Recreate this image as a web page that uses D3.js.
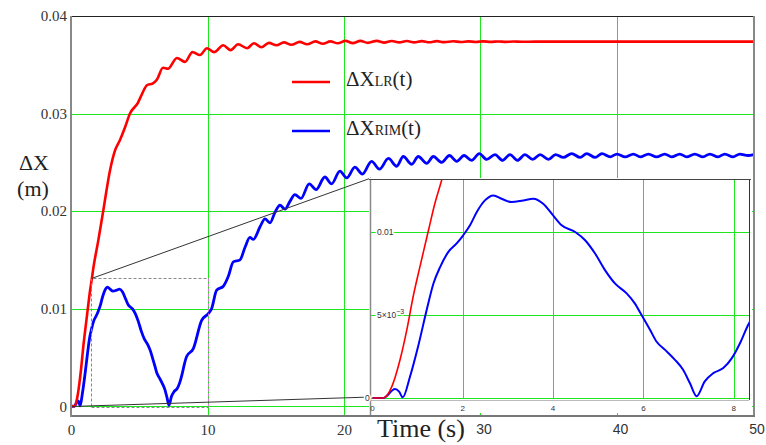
<!DOCTYPE html>
<html>
<head>
<meta charset="utf-8">
<script src="https://cdn.jsdelivr.net/npm/d3@7"></script>
<style>
  html, body { margin: 0; padding: 0; background: #fff; }
  svg { display: block; }
</style>
</head>
<body>
<div id="chart"></div>
<script>
// ΔX_LR(t): time (s) / displacement (m)
const lrTime = [0, 0.24, 0.43, 0.61, 0.76, 0.9, 1.05, 1.24, 1.38, 1.53,
  1.63, 2.0, 2.37, 2.86, 3.22, 3.59, 3.96, 4.32, 4.9, 5.2,
  5.56, 6.0, 6.3, 6.74, 7.1, 7.76, 8.35, 8.9, 9.45, 9.96,
  10.5, 11.15, 11.7, 12.25, 12.9, 13.4, 13.95, 14.5, 15.05, 15.6,
  16.15, 16.75, 17.3, 17.9, 18.45, 19.0, 19.55, 20.1, 20.65, 21.2,
  21.75, 22.4, 22.95, 23.5, 24.05, 24.6, 25.15, 25.7, 26.25, 26.8,
  27.35, 28.0, 28.55, 29.1, 29.65, 30.2, 30.75, 31.3, 31.85, 32.4,
  33.0, 34.0, 50];
const lrValue = [0, 0, 0.0007, 0.0023, 0.0041, 0.0061, 0.0079, 0.0101, 0.0117, 0.0131,
  0.0141, 0.0170, 0.0201, 0.0242, 0.0262, 0.0273, 0.0286, 0.0300, 0.0311, 0.0320,
  0.0329, 0.0331, 0.0335, 0.0347, 0.0346, 0.0357, 0.0353, 0.0363, 0.0360, 0.0367,
  0.0363, 0.0370, 0.0365, 0.0371, 0.0367, 0.0372, 0.0368, 0.03725, 0.0370, 0.0373,
  0.03705, 0.03735, 0.0371, 0.0374, 0.03715, 0.0374, 0.0372, 0.03745, 0.03722, 0.03745,
  0.03725, 0.03745, 0.03727, 0.03744, 0.0373, 0.03743, 0.0373, 0.03742, 0.03731, 0.03742,
  0.03732, 0.03741, 0.03733, 0.0374, 0.03734, 0.0374, 0.03735, 0.03739, 0.03735, 0.03738,
  0.03736, 0.03737, 0.03737];

// ΔX_RIM(t)
const rimTime = [0, 0.24, 0.5, 0.59, 0.67, 0.83, 1.01, 1.2, 1.35, 1.5,
  1.68, 1.86, 2.01, 2.16, 2.31, 2.49, 2.68, 2.86, 3.08, 3.34,
  3.56, 3.78, 4.0, 4.19, 4.49, 4.71, 4.93, 5.15, 5.37, 5.63,
  5.81, 5.96, 6.15, 6.29, 6.48, 6.7, 6.88, 7.03, 7.18, 7.36,
  7.55, 7.77, 7.96, 8.14, 8.32, 8.47, 8.96, 9.57, 10.06, 10.3,
  10.67, 11.16, 11.52, 11.89, 12.38, 12.75, 13.11, 13.36, 13.85, 14.21,
  14.58, 14.95, 15.31, 15.68, 16.04, 16.4, 16.85, 17.45, 17.95, 18.6,
  19.09, 19.7, 20.2, 20.8, 21.35, 22.02, 22.6, 23.25, 23.86, 24.34,
  24.96, 25.44, 26.06, 26.54, 27.16, 27.72, 28.26, 28.8, 29.35, 29.91,
  30.45, 31.06, 31.62, 32.16, 32.7, 33.26, 33.82, 34.37, 34.98, 35.5,
  36.07, 36.68, 37.3, 37.78, 38.4, 38.9, 39.5, 40.0, 40.6, 41.2,
  41.7, 42.3, 42.9, 43.5, 44.0, 44.6, 45.1, 45.7, 46.3, 46.8,
  47.4, 47.9, 48.5, 49.0, 49.6, 50];
const rimValue = [0, 0, 0.00054, 0.00038, 0.00004, 0.00128, 0.0031, 0.0053, 0.0069, 0.0079,
  0.0088, 0.0093, 0.0098, 0.0104, 0.0112, 0.0119, 0.0122, 0.0120, 0.0118, 0.0119,
  0.0120, 0.0117, 0.0110, 0.0104, 0.0100, 0.0095, 0.0087, 0.0077, 0.0069, 0.0063,
  0.0057, 0.0050, 0.0041, 0.0034, 0.0029, 0.0023, 0.0017, 0.0009, 0.0001, 0.0010,
  0.0015, 0.0018, 0.0024, 0.0033, 0.0044, 0.0051, 0.0059, 0.0088, 0.0095, 0.0100,
  0.0119, 0.0123, 0.0133, 0.0148, 0.0150, 0.0163, 0.0173, 0.0171, 0.0184, 0.0192,
  0.0188, 0.0199, 0.0206, 0.0202, 0.0210, 0.0217, 0.0213, 0.0228, 0.0222, 0.0235,
  0.0228, 0.0241, 0.0234, 0.0245, 0.0238, 0.0251, 0.0243, 0.0254, 0.0246, 0.0256,
  0.0248, 0.0256, 0.0249, 0.0256, 0.0250, 0.0257, 0.0251, 0.0257, 0.0252, 0.0259,
  0.0253, 0.0258, 0.0252, 0.0258, 0.0252, 0.0258, 0.0253, 0.0258, 0.0253, 0.0258,
  0.0255, 0.0259, 0.0255, 0.0259, 0.0255, 0.0259, 0.02557, 0.02585, 0.02557, 0.02585,
  0.02557, 0.02585, 0.02557, 0.02585, 0.02557, 0.02585, 0.02557, 0.02585, 0.02557, 0.02585,
  0.02557, 0.02585, 0.02557, 0.02585, 0.0257, 0.0258];

const xTicks = [0, 10, 20, 30, 40, 50];
const yTicks = [0, 0.01, 0.02, 0.03, 0.04];
const xGrid = [10, 20, 30, 40];
const yGrid = [0, 0.01, 0.02, 0.03];
const insetXTicks = [0, 2, 4, 6, 8];
const insetYTicks = [0, 0.005, 0.01];
// zoom window shown in the inset (t from, t to, ΔX top)
const zoomWindow = [1.5, 10, 0.0131];

const legendItems = [
  { sub: "LR", color: "#ff0000" },
  { sub: "RIM", color: "#0000ff" }
];

const serif = "'Liberation Serif', 'Times New Roman', serif";
const sans = "'Liberation Sans', Arial, sans-serif";
const green = "#1ee61e";

// snap thin 1px lines onto a pixel
const px = v => Math.round(v) + 0.5;

const svg = d3.select("#chart").append("svg")
  .attr("width", 766)
  .attr("height", 445);

// scales of the main plot
const x = d3.scaleLinear().domain([0, 50]).range([71, 753.5]);
const y = d3.scaleLinear().domain([-0.001, 0.04]).range([416, 16]);

// scales of the inset
const ix = d3.scaleLinear().domain([0, 8.34]).range([372.5, 749]);
const iy = d3.scaleLinear().domain([0, 0.01313]).range([398, 180]);

const lrData = d3.zip(lrTime, lrValue);
const rimData = d3.zip(rimTime, rimValue);

const defs = svg.append("defs");
defs.append("clipPath").attr("id", "clip-main")
  .append("rect").attr("x", 71).attr("y", 16).attr("width", 683).attr("height", 400);
defs.append("clipPath").attr("id", "clip-inset")
  .append("rect").attr("x", 371).attr("y", 180).attr("width", 378).attr("height", 221);

// grid
svg.append("g")
  .selectAll("line")
  .data(xGrid)
  .join("line")
  .attr("x1", d => px(x(d))).attr("x2", d => px(x(d)))
  .attr("y1", 16).attr("y2", 416)
  .attr("stroke", green).attr("stroke-width", 1);

svg.append("g")
  .selectAll("line")
  .data(yGrid)
  .join("line")
  .attr("x1", 71).attr("x2", 754)
  .attr("y1", d => px(y(d))).attr("y2", d => px(y(d)))
  .attr("stroke", green).attr("stroke-width", 1);

// curves
const mainLine = d3.line()
  .x(d => x(d[0]))
  .y(d => y(d[1]))
  .curve(d3.curveMonotoneX);

const curves = svg.append("g").attr("clip-path", "url(#clip-main)");
curves.append("path")
  .attr("d", mainLine(rimData))
  .attr("fill", "none").attr("stroke", "#0000ff").attr("stroke-width", 2.8);
curves.append("path")
  .attr("d", mainLine(lrData))
  .attr("fill", "none").attr("stroke", "#ff0000").attr("stroke-width", 2.6);

// zoom window + connectors
const zx0 = px(x(zoomWindow[0])), zx1 = px(x(zoomWindow[1]));
const zyTop = px(y(zoomWindow[2])), zyBot = px(y(0));

svg.append("path")
  .attr("d", `M${zx0},${zyBot}V${zyTop}H${zx1}M${zx0},${zyBot + 1}H${zx1}`)
  .attr("fill", "none").attr("stroke", "#888").attr("stroke-width", 1)
  .attr("stroke-dasharray", "3,2");
svg.append("line")
  .attr("x1", zx1).attr("x2", zx1).attr("y1", zyTop).attr("y2", zyBot)
  .attr("stroke", "#e070e0").attr("stroke-width", 1).attr("stroke-dasharray", "3,2");

svg.append("line")
  .attr("x1", zx0).attr("y1", zyTop).attr("x2", 371).attr("y2", 178)
  .attr("stroke", "#333").attr("stroke-width", 1);
svg.append("line")
  .attr("x1", x(0)).attr("y1", zyBot).attr("x2", 371).attr("y2", 397)
  .attr("stroke", "#333").attr("stroke-width", 1);

// ---- inset ----
const inset = svg.append("g");
inset.append("rect")
  .attr("x", 369).attr("y", 178).attr("width", 383).attr("height", 235)
  .attr("fill", "#fff");

inset.append("g")
  .selectAll("line")
  .data(insetXTicks.filter(d => d > 0))
  .join("line")
  .attr("x1", d => px(ix(d))).attr("x2", d => px(ix(d)))
  .attr("y1", 180).attr("y2", 399)
  .attr("stroke", green).attr("stroke-width", 1);

inset.append("g")
  .selectAll("line")
  .data(insetYTicks)
  .join("line")
  .attr("x1", 371).attr("x2", 749)
  .attr("y1", d => px(iy(d))).attr("y2", d => px(iy(d)))
  .attr("stroke", green).attr("stroke-width", 1);

const insetLine = d3.line()
  .x(d => ix(d[0]))
  .y(d => iy(d[1]))
  .curve(d3.curveMonotoneX);

const insetCurves = inset.append("g").attr("clip-path", "url(#clip-inset)");
insetCurves.append("path")
  .attr("d", insetLine(rimData.filter(d => d[0] <= 8.6)))
  .attr("fill", "none").attr("stroke", "#0000ff").attr("stroke-width", 2);
insetCurves.append("path")
  .attr("d", insetLine(lrData.filter(d => d[0] <= 2)))
  .attr("fill", "none").attr("stroke", "#ff0000").attr("stroke-width", 1.6);

// inset frame
inset.append("line").attr("x1", 369).attr("x2", 751).attr("y1", 179.5).attr("y2", 179.5)
  .attr("stroke", "#444").attr("stroke-width", 1);
inset.append("line").attr("x1", 749.5).attr("x2", 749.5).attr("y1", 180).attr("y2", 400)
  .attr("stroke", "#333").attr("stroke-width", 1);
inset.append("line").attr("x1", 371).attr("x2", 749).attr("y1", 400.5).attr("y2", 400.5)
  .attr("stroke", "#bbb").attr("stroke-width", 1);
inset.append("line").attr("x1", 370.5).attr("x2", 370.5).attr("y1", 180).attr("y2", 416)
  .attr("stroke", "#888").attr("stroke-width", 1.5);

// inset tick labels
inset.append("g")
  .selectAll("text")
  .data(insetXTicks)
  .join("text")
  .attr("x", d => ix(d))
  .attr("y", 411)
  .attr("text-anchor", "middle")
  .style("font-family", sans).style("font-size", "8px").style("fill", "#333")
  .text(d => d);

const iyLabels = inset.append("g")
  .selectAll("text")
  .data(insetYTicks)
  .join("text")
  .attr("x", d => d === 0 ? 365 : 377)
  .attr("y", d => iy(d) + 3)
  .style("font-family", sans).style("font-size", "8.5px").style("fill", "#333")
  .attr("stroke", "#fff").attr("stroke-width", 3).attr("paint-order", "stroke");

iyLabels.each(function (d) {
  const t = d3.select(this);
  if (d === 0.005) {
    t.append("tspan").text("5×10");
    t.append("tspan").attr("dy", -4).style("font-size", "7px").text("−3");
  } else {
    t.text(d);
  }
});

// ---- main frame ----
svg.append("line").attr("x1", 71).attr("x2", 754).attr("y1", 16.5).attr("y2", 16.5)
  .attr("stroke", "#222").attr("stroke-width", 1);
svg.append("line").attr("x1", 754).attr("x2", 754).attr("y1", 16).attr("y2", 417)
  .attr("stroke", "#888").attr("stroke-width", 2);
svg.append("line").attr("x1", 70).attr("x2", 755).attr("y1", 416).attr("y2", 416)
  .attr("stroke", "#777").attr("stroke-width", 2);
svg.append("line").attr("x1", 71).attr("x2", 71).attr("y1", 16).attr("y2", 417)
  .attr("stroke", "#888").attr("stroke-width", 2);

// axes labels
const yAxis = svg.append("g")
  .attr("transform", "translate(71,0)")
  .call(d3.axisLeft(y).tickValues(yTicks).tickSize(0).tickPadding(4)
    .tickFormat(d => d === 0 ? "0" : d3.format(".2f")(d)));
yAxis.select(".domain").remove();
yAxis.selectAll("text")
  .style("font-family", serif).style("font-size", "15px").style("fill", "#333");

const xAxis = svg.append("g")
  .attr("transform", "translate(0,416)")
  .call(d3.axisBottom(x).tickValues(xTicks).tickSize(0).tickPadding(8));
xAxis.select(".domain").remove();
xAxis.selectAll("text")
  .attr("dx", d => d >= 30 ? 3 : 0)
  .style("font-family", d => d >= 30 ? sans : serif)
  .style("font-size", d => d >= 30 ? "14px" : "15px")
  .style("fill", "#333");

svg.append("text")
  .attr("x", 377).attr("y", 437)
  .style("font-family", serif).style("font-size", "26px").style("fill", "#222")
  .text("Time (s)");

svg.append("text")
  .attr("x", 34).attr("y", 170)
  .attr("text-anchor", "middle")
  .style("font-family", serif).style("font-size", "22px").style("fill", "#222")
  .text("ΔX");
svg.append("text")
  .attr("x", 33).attr("y", 196)
  .attr("text-anchor", "middle")
  .style("font-family", serif).style("font-size", "22px").style("fill", "#222")
  .text("(m)");

// legend
const legend = svg.append("g")
  .selectAll("g")
  .data(legendItems)
  .join("g")
  .attr("transform", (d, i) => `translate(292,${82 + i * 49})`);

legend.append("line")
  .attr("x1", 0).attr("x2", 38)
  .attr("stroke", d => d.color).attr("stroke-width", 2.5);

const legendText = legend.append("text")
  .attr("x", 54).attr("y", 4)
  .style("font-family", serif).style("font-size", "21px").style("fill", "#222");
legendText.append("tspan").text("ΔX");
legendText.append("tspan").style("font-size", "14px").text(d => d.sub);
legendText.append("tspan").text("(t)");
</script>
</body>
</html>
